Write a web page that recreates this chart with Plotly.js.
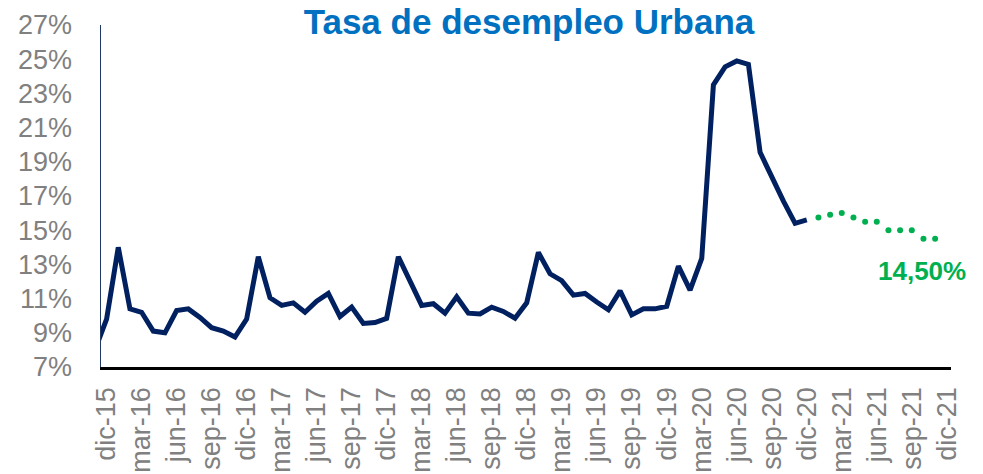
<!DOCTYPE html>
<html>
<head>
<meta charset="utf-8">
<script src="https://cdn.plot.ly/plotly-3.0.1.min.js"></script>
<style>html,body{margin:0;padding:0;background:#fff;}#chart{width:983px;height:474px;}</style>
</head>
<body>
<div id="chart"></div>
<script>
// Month categories (nov-15 .. dic-21)
const months = [
  'nov-15','dic-15',
  'ene-16','feb-16','mar-16','abr-16','may-16','jun-16','jul-16','ago-16','sep-16','oct-16','nov-16','dic-16',
  'ene-17','feb-17','mar-17','abr-17','may-17','jun-17','jul-17','ago-17','sep-17','oct-17','nov-17','dic-17',
  'ene-18','feb-18','mar-18','abr-18','may-18','jun-18','jul-18','ago-18','sep-18','oct-18','nov-18','dic-18',
  'ene-19','feb-19','mar-19','abr-19','may-19','jun-19','jul-19','ago-19','sep-19','oct-19','nov-19','dic-19',
  'ene-20','feb-20','mar-20','abr-20','may-20','jun-20','jul-20','ago-20','sep-20','oct-20','nov-20','dic-20',
  'ene-21','feb-21','mar-21','abr-21','may-21','jun-21','jul-21','ago-21','sep-21','oct-21','nov-21','dic-21'
];

// Observed urban unemployment rate (%), nov-15 .. dic-20
const observedMonths = months.slice(0, 62);
const observed = [
  8.0, 9.8,
  14.0, 10.4, 10.2, 9.1, 9.0, 10.3, 10.4, 9.9, 9.3, 9.1, 8.75, 9.8,
  13.45, 11.05, 10.6, 10.75, 10.2, 10.85, 11.3, 9.95, 10.5, 9.55, 9.6, 9.85,
  13.45, 12.0, 10.6, 10.7, 10.15, 11.1, 10.15, 10.1, 10.5, 10.25, 9.85, 10.75,
  13.7, 12.45, 12.05, 11.2, 11.3, 10.8, 10.35, 11.45, 10.05, 10.4, 10.4, 10.55,
  12.9, 11.5, 13.35, 23.5, 24.55, 24.9, 24.7, 19.55, 18.1, 16.7, 15.4, 15.6
];

// Forecast (%), ene-21 .. nov-21
const forecastMonths = ['ene-21','feb-21','mar-21','abr-21','may-21','jun-21','jul-21','ago-21','sep-21','oct-21','nov-21'];
const forecast = [15.75, 15.9, 16.0, 15.75, 15.5, 15.5, 15.0, 15.0, 15.0, 14.5, 14.5];

// Tick labels shown on the x axis
const tickLabels = ['dic-15','mar-16','jun-16','sep-16','dic-16','mar-17','jun-17','sep-17','dic-17',
  'mar-18','jun-18','sep-18','dic-18','mar-19','jun-19','sep-19','dic-19','mar-20','jun-20','sep-20',
  'dic-20','mar-21','jun-21','sep-21','dic-21'];
const yTicks = [7, 9, 11, 13, 15, 17, 19, 21, 23, 25, 27];

const titleText = 'Tasa de desempleo Urbana';
const endLabel = '14,50%';
const endLabelMonth = 'nov-21';
const endLabelValue = 14.5;

const FONT = 'Liberation Sans, Arial, sans-serif';

const traces = [
  {
    x: observedMonths, y: observed, type: 'scatter', mode: 'lines',
    line: {color: '#002060', width: 5, shape: 'linear'},
    hoverinfo: 'skip', showlegend: false
  },
  {
    x: forecastMonths, y: forecast, type: 'scatter', mode: 'markers',
    marker: {color: '#00B050', size: 6, line: {width: 0}},
    hoverinfo: 'skip', showlegend: false, cliponaxis: false
  }
];

const layout = {
  width: 983, height: 474,
  margin: {l: 101, r: 32, t: 25, b: 107},
  paper_bgcolor: '#ffffff', plot_bgcolor: '#ffffff',
  font: {family: FONT, color: '#808080'},
  title: {
    text: '<b>' + titleText + '</b>',
    font: {family: FONT, size: 35, color: '#0070C0'},
    x: 0.5035, xref: 'paper', xanchor: 'center',
    y: 1 - 22/474, yref: 'container', yanchor: 'middle'
  },
  xaxis: {
    type: 'category',
    categoryorder: 'array', categoryarray: months,
    range: [0.52, 73.36],
    tickmode: 'array', tickvals: tickLabels, ticktext: tickLabels,
    tickangle: -90,
    tickfont: {family: FONT, size: 27, color: '#808080'},
    ticks: '', ticklabelstandoff: 7,
    showgrid: false, zeroline: false,
    showline: true, linecolor: '#000000', linewidth: 2.5
  },
  yaxis: {
    range: [7, 27],
    tickmode: 'array', tickvals: yTicks, ticktext: yTicks.map(v => v + '%'),
    tickfont: {family: FONT, size: 27, color: '#808080'},
    ticks: '', ticklabelstandoff: 22,
    showgrid: false, zeroline: false,
    showline: true, linecolor: '#1F3864', linewidth: 1.5
  },
  annotations: [{
    x: endLabelMonth, y: endLabelValue, xref: 'x', yref: 'y',
    text: '<b>' + endLabel + '</b>', showarrow: false,
    xanchor: 'center', yanchor: 'middle', xshift: -13, yshift: -32,
    font: {family: FONT, size: 26, color: '#00B050'}
  }]
};

Plotly.newPlot('chart', traces, layout, {staticPlot: true, displayModeBar: false});
</script>
</body>
</html>
